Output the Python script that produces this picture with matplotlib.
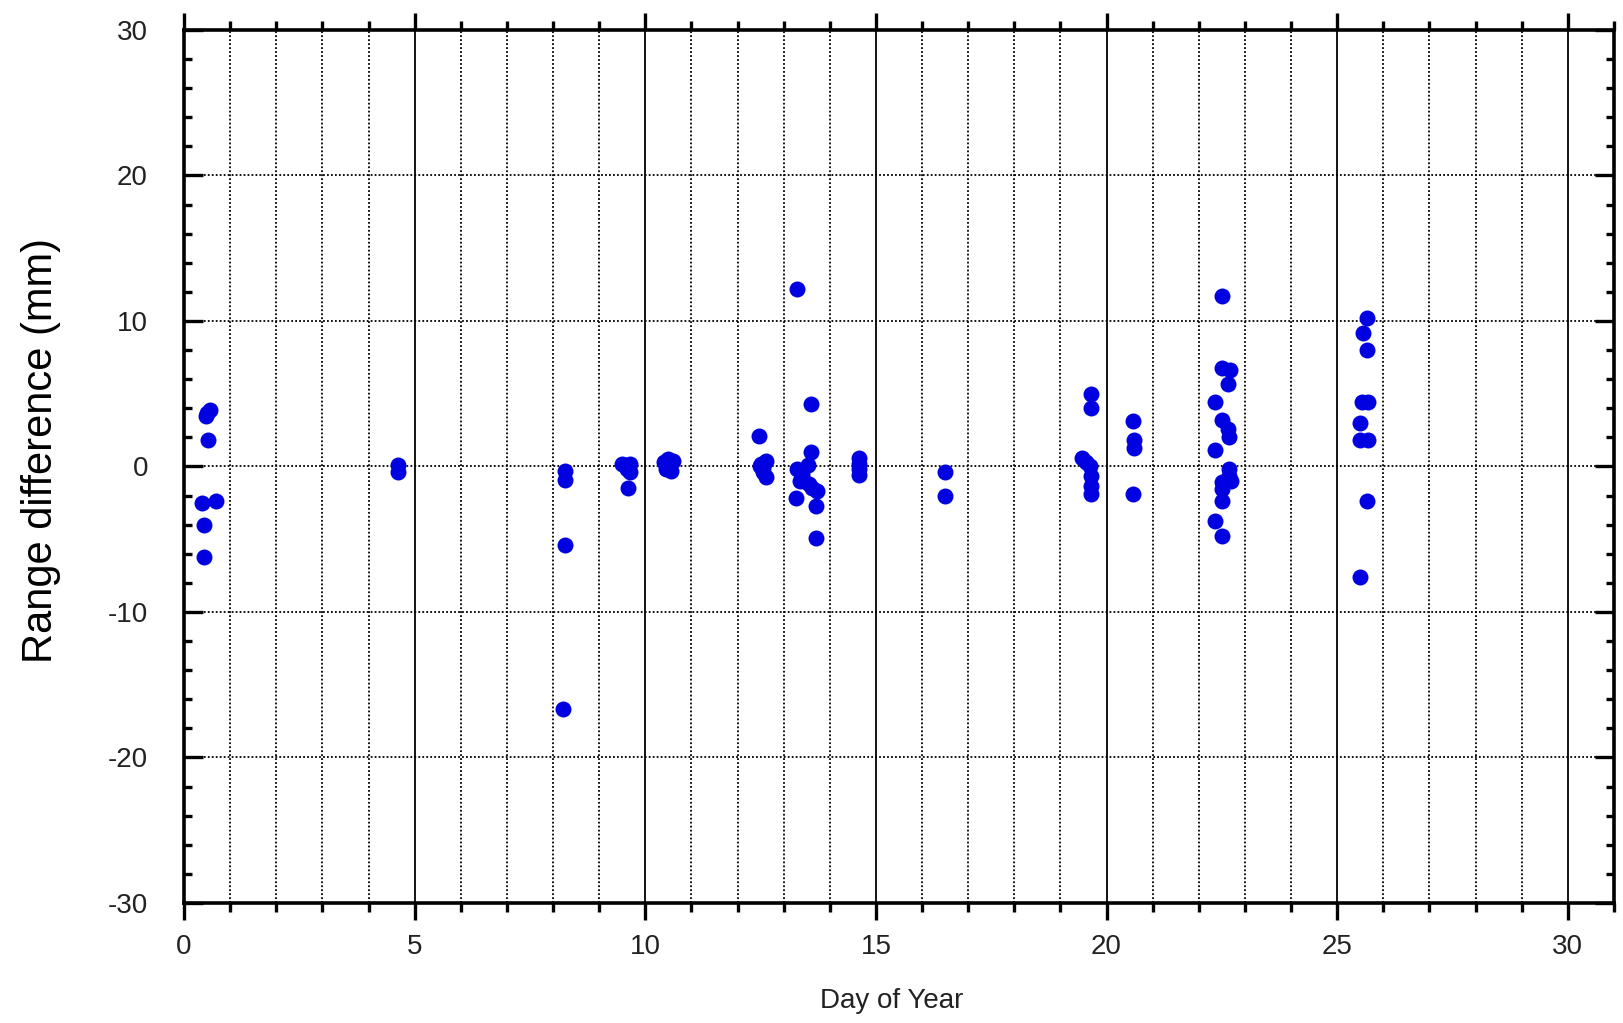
import matplotlib.pyplot as plt
from matplotlib.ticker import MultipleLocator

# Values (day of year, range difference in mm)
day_of_year = [
    0.47, 0.56, 0.50, 0.52, 0.40, 0.70, 0.43, 0.43,
    4.63, 4.63,
    8.27, 8.27, 8.27, 8.22,
    9.50, 9.56, 9.66, 9.60, 9.66, 9.63,
    10.40, 10.50, 10.60, 10.45, 10.55, 10.50,
    12.46, 12.50, 12.55, 12.62, 12.55, 12.62, 12.48,
    13.29, 13.59, 13.59, 13.30, 13.40, 13.52, 13.45, 13.35, 13.55, 13.62,
    13.27, 13.72, 13.70, 13.70,
    14.64, 14.64, 14.64, 14.64,
    16.50, 16.50,
    19.67, 19.67, 19.47, 19.56, 19.65, 19.67, 19.67, 19.67,
    20.57, 20.60, 20.60, 20.57,
    22.50, 22.50, 22.68, 22.63, 22.35, 22.50, 22.63, 22.66, 22.35, 22.66,
    22.66, 22.50, 22.50, 22.70, 22.50, 22.35, 22.50,
    25.64, 25.56, 25.64, 25.53, 25.67, 25.49, 25.49, 25.67, 25.64, 25.49,
]
range_diff_mm = [
    3.5, 3.9, 3.7, 1.8, -2.5, -2.4, -4.0, -6.2,
    0.1, -0.4,
    -0.3, -0.9, -5.4, -16.7,
    0.2, 0.1, 0.2, -0.2, -0.4, -1.5,
    0.3, 0.5, 0.4, -0.2, -0.3, 0.0,
    2.1, 0.2, -0.1, 0.4, -0.4, -0.7, 0.0,
    12.2, 4.3, 1.0, -0.2, -0.5, 0.1, -1.0, -1.0, -1.2, -1.5,
    -2.2, -1.7, -2.7, -4.9,
    0.6, 0.2, -0.2, -0.6,
    -0.4, -2.05,
    4.95, 4.0, 0.6, 0.3, 0.0, -0.65, -1.35, -1.9,
    3.1, 1.85, 1.3, -1.9,
    11.7, 6.8, 6.65, 5.7, 4.45, 3.2, 2.55, 2.05, 1.1, -0.2,
    -0.65, -1.05, -1.55, -1.0, -2.35, -3.75, -4.75,
    10.2, 9.15, 8.0, 4.4, 4.4, 3.0, 1.85, 1.85, -2.35, -7.6,
]

plt.rcParams["font.family"] = ["Liberation Sans", "DejaVu Sans"]
plt.rcParams["axes.unicode_minus"] = False

fig = plt.figure(figsize=(16.24, 10.23), dpi=100)
ax = fig.add_axes([0.1133, 0.1173, 0.8805, 0.8534])

ax.plot(day_of_year, range_diff_mm, linestyle="none", marker="o",
        markersize=11.5, color="#0000e0", markeredgewidth=0, zorder=5)

ax.set_xlim(0, 31)
ax.set_ylim(-30, 30)
ax.xaxis.set_major_locator(MultipleLocator(5))
ax.xaxis.set_minor_locator(MultipleLocator(1))
ax.yaxis.set_major_locator(MultipleLocator(10))
ax.yaxis.set_minor_locator(MultipleLocator(2))

# vertical: solid at majors, dotted at every day; horizontal: dotted at majors
ax.grid(True, which="major", axis="x", color="black", linestyle="-", linewidth=1.3)
ax.grid(True, which="minor", axis="x", color="black", linestyle=(0, (1, 1.2)), linewidth=1.3)
ax.grid(True, which="major", axis="y", color="black", linestyle=(0, (1, 1.2)), linewidth=1.3)
ax.set_axisbelow(True)

for spine in ax.spines.values():
    spine.set_linewidth(2.6)

ax.tick_params(axis="x", which="both", direction="out", top=True, bottom=True,
               width=2.4, labelsize=20, labelcolor="#222222")
ax.tick_params(axis="x", which="major", length=12, pad=10)
ax.tick_params(axis="x", which="minor", length=6.5)
ax.tick_params(axis="y", which="both", direction="in", left=True, right=True,
               width=2.4, labelsize=20, labelcolor="#222222")
ax.tick_params(axis="y", which="major", length=14, pad=26)
ax.tick_params(axis="y", which="minor", length=6)

ax.set_xlabel("Day of Year", fontsize=20, color="#222222")
ax.xaxis.set_label_coords(0.495, -0.097)
ax.set_ylabel("Range difference (mm)", fontsize=30, color="black")
ax.yaxis.set_label_coords(-0.086, 0.518)

fig.savefig("out.png", dpi=100)
